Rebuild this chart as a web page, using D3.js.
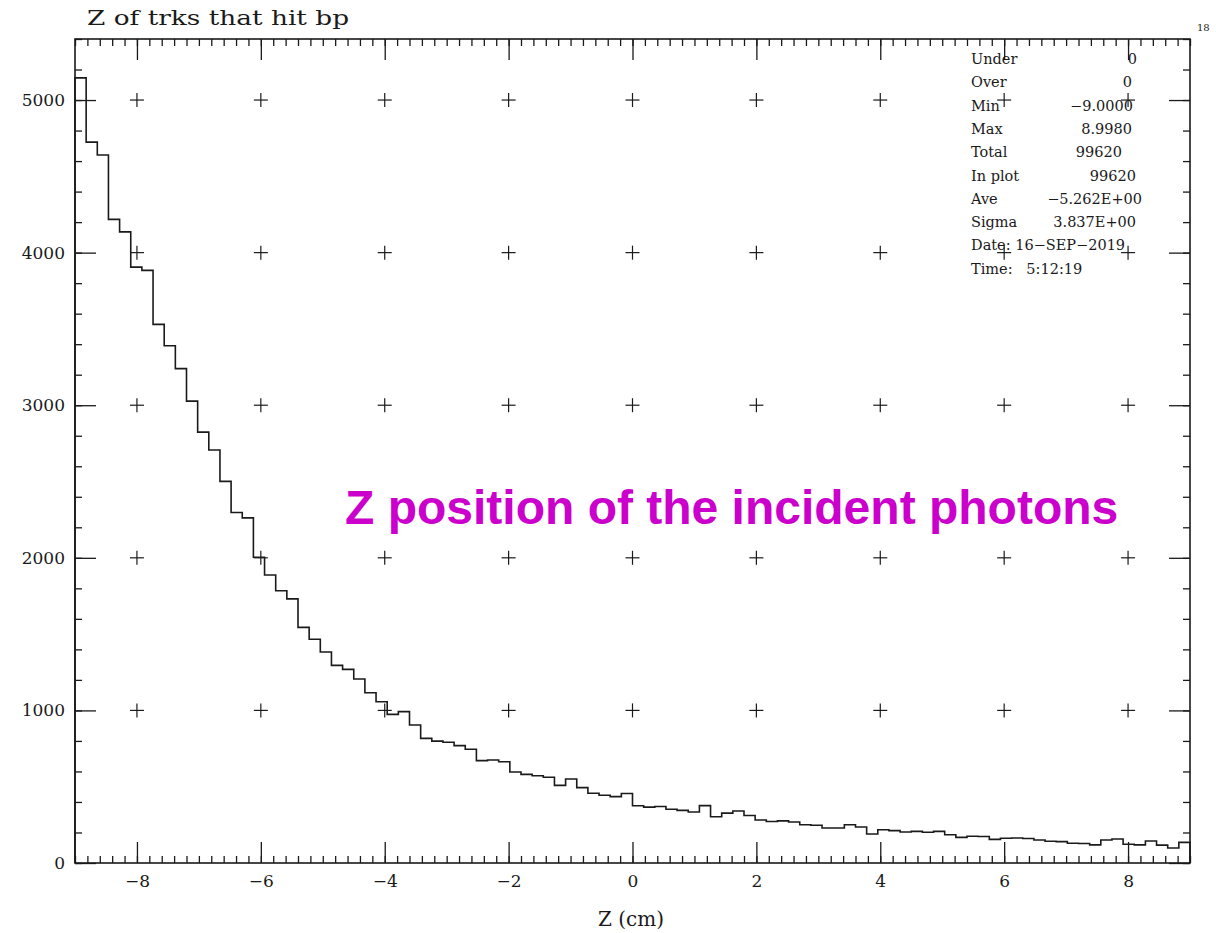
<!DOCTYPE html>
<html>
<head>
<meta charset="utf-8">
<script src="https://cdn.jsdelivr.net/npm/d3@7"></script>
<style>
html,body{margin:0;padding:0;background:#fff;}
svg{display:block;}
</style>
</head>
<body>
<svg id="chart" width="1216" height="933"></svg>
<script>
// ---- data ----
const binStart = -9;
const binEnd = 9;
const counts = [
  5145,4724,4640,4218,4136,3905,3884,3530,3390,3240,
  3027,2824,2707,2501,2297,2262,2004,1887,1784,1731,
  1544,1466,1383,1295,1269,1206,1116,1057,974,992,
  904,817,799,791,769,745,671,675,664,596,
  581,572,562,509,550,494,457,444,435,455,
  375,366,370,352,345,334,376,303,327,341,
  311,282,272,276,269,251,247,229,229,251,
  236,190,218,212,203,207,202,207,185,168,
  175,174,155,162,164,161,151,143,140,129,
  128,119,151,157,123,119,144,117,98,135
];
const xMajorTicks = [-8,-6,-4,-2,0,2,4,6,8];
const yMajorTicks = [0,1000,2000,3000,4000,5000];
const crossX = [-8,-6,-4,-2,0,2,4,6,8];
const crossY = [1000,2000,3000,4000,5000];
const titleText = "Z of trks that hit bp";
const xLabel = "Z (cm)";
const pageNumber = "18";
const statLabels = ["Under","Over","Min","Max","Total","In plot","Ave","Sigma"];
const statValues = ["0","0","\u22129.0000","8.9980","99620","99620","\u22125.262E+00","3.837E+00"];
const statLines = ["Date: 16\u2212SEP\u22122019","Time:   5:12:19"];
const annotation = "Z position of the incident photons";

// ---- layout ----
const svg = d3.select("#chart");
const L = 75, R = 1190, T = 39, B = 863;
const x = d3.scaleLinear().domain([binStart, binEnd]).range([L, R]);
const y = d3.scaleLinear().domain([0, 5400]).range([B, T]);
const serif = "'DejaVu Serif', serif";
const ink = "#1a1a1a";

const nb = counts.length;
const bw = (binEnd - binStart) / nb;
const xMinor = d3.range(0, Math.round((binEnd - binStart) / 0.2) + 1).map(i => +(binStart + i * 0.2).toFixed(3));
const yMinor = d3.range(0, 28).map(i => i * 200);

function styleAxis(g) {
  g.selectAll("path.domain").remove();
  g.selectAll(".tick line").attr("stroke", ink).attr("stroke-width", 1.3);
}

// bottom axis
svg.append("g").attr("transform", `translate(0,${B})`)
  .call(d3.axisBottom(x).tickValues(xMinor).tickSize(-7).tickFormat("")).call(styleAxis);
const xb = svg.append("g").attr("transform", `translate(0,${B})`)
  .call(d3.axisBottom(x).tickValues(xMajorTicks).tickSize(-21).tickPadding(12)
    .tickFormat(d => (d < 0 ? "\u2212" : "") + Math.abs(d)));
styleAxis(xb);
xb.selectAll("text").attr("font-family", serif).attr("font-size", 17).attr("fill", ink);

// top axis
svg.append("g").attr("transform", `translate(0,${T})`)
  .call(d3.axisTop(x).tickValues(xMinor).tickSize(-7).tickFormat("")).call(styleAxis);
svg.append("g").attr("transform", `translate(0,${T})`)
  .call(d3.axisTop(x).tickValues(xMajorTicks).tickSize(-21).tickFormat("")).call(styleAxis);

// left axis
svg.append("g").attr("transform", `translate(${L},0)`)
  .call(d3.axisLeft(y).tickValues(yMinor).tickSize(-7).tickFormat("")).call(styleAxis);
const yl = svg.append("g").attr("transform", `translate(${L},0)`)
  .call(d3.axisLeft(y).tickValues(yMajorTicks).tickSize(-21).tickPadding(10).tickFormat(d3.format("d")));
styleAxis(yl);
yl.selectAll("text").attr("font-family", serif).attr("font-size", 17).attr("fill", ink);

// right axis
svg.append("g").attr("transform", `translate(${R},0)`)
  .call(d3.axisRight(y).tickValues(yMinor).tickSize(-7).tickFormat("")).call(styleAxis);
svg.append("g").attr("transform", `translate(${R},0)`)
  .call(d3.axisRight(y).tickValues(yMajorTicks).tickSize(-21).tickFormat("")).call(styleAxis);

// frame
svg.append("rect").attr("x", L).attr("y", T).attr("width", R - L).attr("height", B - T)
  .attr("fill", "none").attr("stroke", ink).attr("stroke-width", 1.6);

// grid crosses
const crosses = svg.append("g").attr("stroke", ink).attr("stroke-width", 1.2);
crossX.forEach(cx => crossY.forEach(cy => {
  const px = x(cx), py = y(cy);
  crosses.append("line").attr("x1", px - 7).attr("x2", px + 7).attr("y1", py).attr("y2", py);
  crosses.append("line").attr("x1", px).attr("x2", px).attr("y1", py - 7).attr("y2", py + 7);
}));

// histogram
const pts = counts.map((c, i) => [binStart + i * bw, c]);
pts.push([binEnd, counts[nb - 1]]);
pts.push([binEnd, 0]);
pts.unshift([binStart, 0]);
const line = d3.line().x(d => x(d[0])).y(d => y(d[1])).curve(d3.curveStepAfter);
svg.append("path").attr("d", line(pts)).attr("fill", "none")
  .attr("stroke", ink).attr("stroke-width", 1.6);

// title
svg.append("text").attr("x", 87).attr("y", 25).attr("font-family", serif).attr("font-size", 20)
  .attr("textLength", 262).attr("lengthAdjust", "spacingAndGlyphs").attr("fill", ink).text(titleText);
svg.append("text").attr("x", 1197).attr("y", 31).attr("font-family", serif).attr("font-size", 10)
  .attr("fill", ink).text(pageNumber);

// x label
svg.append("text").attr("x", 631).attr("y", 926).attr("text-anchor", "middle")
  .attr("font-family", serif).attr("font-size", 20).attr("fill", ink).text(xLabel);

// stats box
const statRight = [1137,1132,1133,1132,1122,1136,1142,1136];
const stats = svg.append("g").attr("font-family", serif).attr("font-size", 14.5).attr("fill", ink);
statLabels.forEach((s, i) => {
  const by = 64 + i * 23.3;
  stats.append("text").attr("x", 971).attr("y", by).text(s);
  stats.append("text").attr("x", statRight[i]).attr("y", by).attr("text-anchor", "end").text(statValues[i]);
});
statLines.forEach((s, i) => {
  const by = 64 + (statLabels.length + i) * 23.3;
  stats.append("text").attr("x", 971).attr("y", by).attr("xml:space", "preserve")
    .style("white-space", "pre").text(s);
});

// annotation
svg.append("text").attr("x", 345).attr("y", 524)
  .attr("font-family", "'Liberation Sans', Arial, sans-serif").attr("font-weight", "bold")
  .attr("font-size", 48).attr("fill", "#cc00cc").text(annotation);
</script>
</body>
</html>
